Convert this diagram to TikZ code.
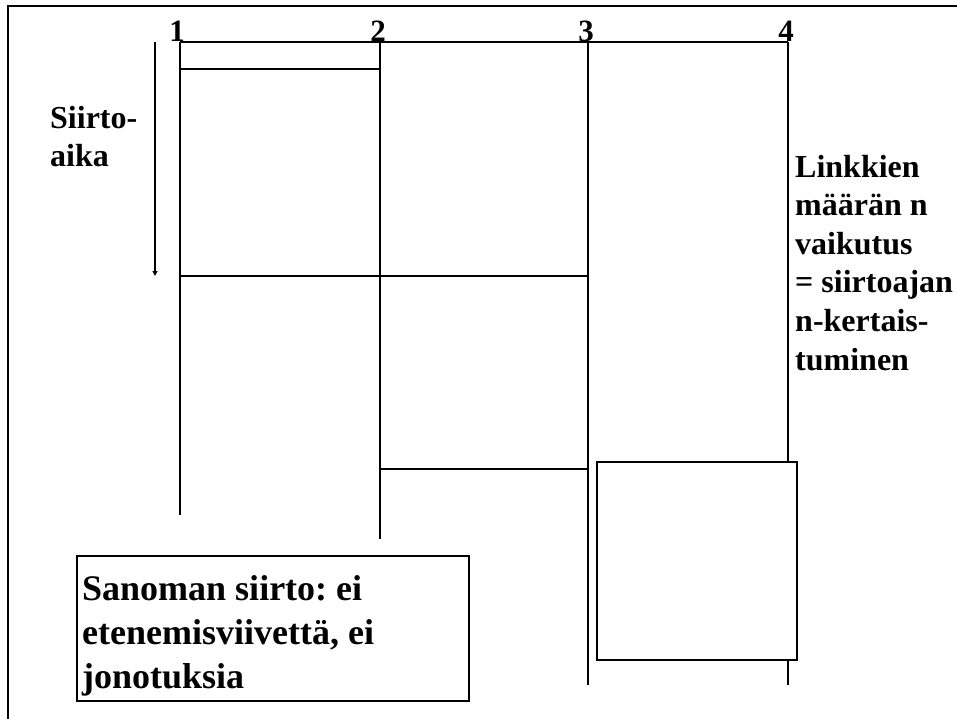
\documentclass[tikz,border=0pt]{standalone}
\usepackage{fontspec}
\setmainfont{Liberation Serif}
\usetikzlibrary{arrows.meta}
\begin{document}
\begin{tikzpicture}[x=1pt,y=-1pt,
  ln/.style={line width=2pt,black},
  lbl/.style={inner sep=0pt,anchor=base west,font=\fontsize{32}{38.6}\selectfont\bfseries\frenchspacing,align=left},
  num/.style={inner sep=0pt,anchor=base,font=\fontsize{31}{36}\selectfont\bfseries}]
\useasboundingbox (0,0) rectangle (957,719);
% frame
\coordinate (fb) at (8,719);
\coordinate (ftl) at (8,6);
\coordinate (fr) at (957,6);
\draw[ln] (fb) -- (ftl) -- (fr);
% coordinates
\coordinate (t1) at (180,42); \coordinate (b1) at (180,515);
\coordinate (t2) at (380,42); \coordinate (b2) at (380,539);
\coordinate (t3) at (588,42); \coordinate (b3) at (588,685);
\coordinate (t4) at (788,42); \coordinate (b4) at (788,685);
\draw[ln] (t1) -- (t4);
\draw[ln] (t1) -- (b1);
\draw[ln] (t2) -- (b2);
\draw[ln] (t3) -- (b3);
\draw[ln] (t4) -- (b4);
% horizontal message lines
\coordinate (h1a) at (180,69); \coordinate (h1b) at (380,69);
\coordinate (h2a) at (180,276); \coordinate (h2b) at (588,276);
\coordinate (h3a) at (380,469); \coordinate (h3b) at (588,469);
\draw[ln] (h1a) -- (h1b);
\draw[ln] (h2a) -- (h2b);
\draw[ln] (h3a) -- (h3b);
% numbers
\node[num] (n1) at (177,42) {1};
\node[num] (n2) at (378,42) {2};
\node[num] (n3) at (586,42) {3};
\node[num] (n4) at (786,42) {4};
% time arrow
\coordinate (at) at (155,42);
\coordinate (ab) at (155,276);
\draw[ln,-{Triangle[length=5pt,width=5pt]}] (at) -- (ab);
\node[lbl] (siirto) at (50,167) {Siirto-\\aika};
% right text
\node[lbl] (linkki) at (795,370) {Linkkien\\määrän n\\vaikutus\\= siirtoajan\\n-kertais-\\tuminen};
% right box
\node[draw,line width=2pt,fill=white,minimum width=200pt,minimum height=198pt,inner sep=0pt,anchor=north west] (rb) at (596,461) {};
% bottom box
\node[draw,line width=2pt,fill=white,minimum width=392pt,minimum height=145pt,inner sep=0pt,anchor=north west] (bb) at (76,555) {};
\node[inner sep=0pt,anchor=base west,font=\fontsize{36}{44}\selectfont\bfseries\frenchspacing,align=left] (bt) at (82,688) {Sanoman siirto: ei\\etenemisviivettä, ei\\jonotuksia};
\end{tikzpicture}
\end{document}
